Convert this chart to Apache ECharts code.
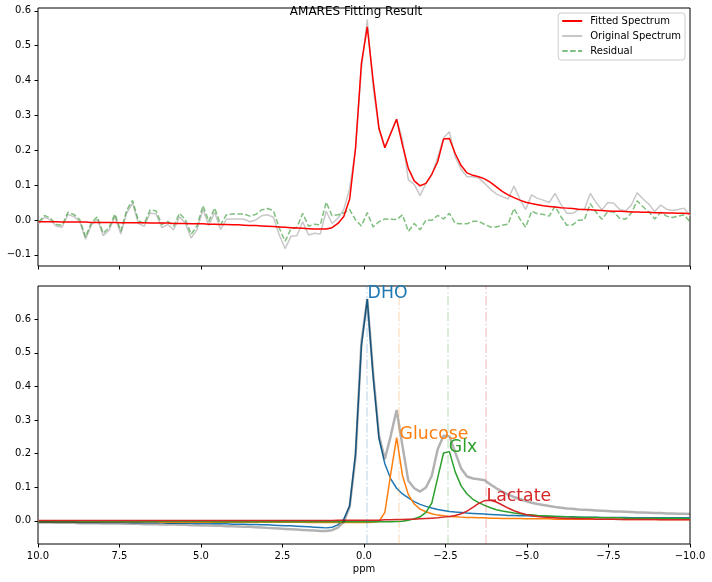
<!DOCTYPE html>
<html>
<head>
<meta charset="utf-8">
<script src="https://cdn.jsdelivr.net/npm/echarts@6/dist/echarts.min.js"></script>
<style>
html,body{margin:0;padding:0;background:#fff;}
#chart{width:712px;height:582px;}
</style>
</head>
<body>
<div id="chart"></div>
<script>
// ---------- DATA ----------
const ppm = [9.98,9.80,9.62,9.44,9.26,9.08,8.90,8.72,8.54,8.36,
 8.18,8.00,7.82,7.64,7.46,7.28,7.10,6.92,6.74,6.56,
 6.38,6.20,6.02,5.84,5.66,5.48,5.30,5.12,4.94,4.76,
 4.58,4.40,4.22,4.04,3.86,3.68,3.50,3.32,3.14,2.96,
 2.78,2.60,2.42,2.24,2.06,1.88,1.70,1.52,1.34,1.16,
 0.98,0.80,0.62,0.44,0.26,0.08,-0.10,-0.28,-0.46,-0.64,
 -0.82,-1.00,-1.18,-1.36,-1.54,-1.72,-1.90,-2.08,-2.26,-2.44,
 -2.62,-2.80,-2.98,-3.16,-3.34,-3.52,-3.70,-3.88,-4.06,-4.24,
 -4.42,-4.60,-4.78,-4.96,-5.14,-5.32,-5.50,-5.68,-5.86,-6.04,
 -6.22,-6.40,-6.58,-6.76,-6.94,-7.12,-7.30,-7.48,-7.66,-7.84,
 -8.02,-8.20,-8.38,-8.56,-8.74,-8.92,-9.10,-9.28,-9.46,-9.64,
 -9.82,-10.00];

const original = [-0.011,0.008,0.000,-0.018,-0.021,0.016,0.010,-0.005,-0.055,-0.014,
 0.002,-0.045,-0.029,0.010,-0.040,0.020,0.048,-0.010,-0.018,0.020,
 0.017,-0.022,-0.013,-0.028,0.009,-0.009,-0.052,-0.027,0.030,-0.016,
 0.022,-0.027,0.002,0.003,0.003,0.002,-0.005,0.000,0.012,0.015,
 0.008,-0.043,-0.082,-0.047,-0.045,-0.005,-0.043,-0.038,-0.040,0.025,
 -0.010,0.005,0.030,0.090,0.205,0.432,0.575,0.380,0.258,0.210,
 0.250,0.290,0.230,0.115,0.102,0.070,0.105,0.130,0.180,0.235,
 0.253,0.180,0.145,0.124,0.124,0.120,0.105,0.088,0.075,0.067,
 0.060,0.097,0.060,0.030,0.072,0.062,0.057,0.050,0.076,0.045,
 0.019,0.019,0.030,0.030,0.076,0.050,0.029,0.050,0.048,0.030,
 0.026,0.043,0.078,0.060,0.045,0.024,0.043,0.031,0.027,0.030,
 0.034,0.012];

const fitted = [-0.005,-0.005,-0.005,-0.005,-0.006,-0.006,-0.006,-0.006,-0.006,-0.007,
 -0.007,-0.007,-0.007,-0.007,-0.008,-0.008,-0.008,-0.008,-0.008,-0.009,
 -0.009,-0.009,-0.009,-0.010,-0.010,-0.010,-0.011,-0.011,-0.011,-0.012,
 -0.012,-0.013,-0.013,-0.014,-0.014,-0.015,-0.016,-0.016,-0.017,-0.018,
 -0.019,-0.020,-0.021,-0.022,-0.023,-0.024,-0.025,-0.026,-0.026,-0.026,
 -0.022,-0.010,0.010,0.060,0.205,0.449,0.554,0.400,0.263,0.207,
 0.248,0.289,0.215,0.148,0.112,0.098,0.105,0.131,0.167,0.232,
 0.234,0.190,0.156,0.135,0.128,0.124,0.118,0.108,0.095,0.082,
 0.072,0.064,0.057,0.051,0.047,0.044,0.041,0.039,0.037,0.035,
 0.034,0.033,0.031,0.030,0.029,0.028,0.027,0.026,0.025,0.025,
 0.024,0.023,0.023,0.022,0.022,0.021,0.021,0.020,0.020,0.019,
 0.019,0.018];

const residual = [-0.006,0.013,0.005,-0.013,-0.015,0.022,0.016,0.001,-0.049,-0.007,
 0.009,-0.038,-0.022,0.017,-0.032,0.028,0.056,-0.002,-0.010,0.029,
 0.026,-0.013,-0.004,-0.018,0.019,0.001,-0.041,-0.016,0.041,-0.004,
 0.034,-0.014,0.015,0.017,0.017,0.017,0.011,0.016,0.029,0.033,
 0.027,-0.023,-0.061,-0.025,-0.022,0.019,-0.018,-0.012,-0.014,0.051,
 0.012,0.015,0.020,0.030,0.000,-0.017,0.021,-0.020,-0.005,0.003,
 0.002,0.001,0.015,-0.033,-0.010,-0.028,0.000,-0.001,0.013,0.003,
 0.019,-0.010,-0.011,-0.011,-0.004,-0.004,-0.013,-0.020,-0.020,-0.015,
 -0.012,0.033,0.003,-0.021,0.025,0.018,0.016,0.011,0.039,0.010,
 -0.015,-0.014,-0.001,0.000,0.047,0.022,0.002,0.024,0.023,0.005,
 0.002,0.020,0.055,0.038,0.023,0.003,0.022,0.011,0.007,0.011,
 0.015,-0.006];

const componentSum = [-0.005,-0.005,-0.005,-0.006,-0.006,-0.006,-0.006,-0.007,-0.007,-0.007,
 -0.007,-0.008,-0.008,-0.008,-0.008,-0.009,-0.009,-0.009,-0.010,-0.010,
 -0.010,-0.011,-0.011,-0.011,-0.012,-0.012,-0.013,-0.013,-0.014,-0.014,
 -0.015,-0.015,-0.016,-0.016,-0.017,-0.018,-0.018,-0.019,-0.020,-0.021,
 -0.022,-0.023,-0.024,-0.025,-0.026,-0.027,-0.028,-0.029,-0.030,-0.030,
 -0.028,-0.020,-0.003,0.042,0.190,0.530,0.660,0.440,0.253,0.184,
 0.253,0.330,0.223,0.119,0.097,0.087,0.099,0.134,0.213,0.253,
 0.252,0.203,0.156,0.132,0.126,0.124,0.121,0.108,0.097,0.087,
 0.078,0.071,0.065,0.059,0.054,0.050,0.047,0.044,0.041,0.039,
 0.037,0.036,0.034,0.033,0.032,0.031,0.030,0.029,0.028,0.028,
 0.027,0.026,0.025,0.025,0.024,0.023,0.023,0.022,0.022,0.021,
 0.021,0.020];

const dho = [-0.004,-0.004,-0.004,-0.004,-0.004,-0.004,-0.004,-0.005,-0.005,-0.005,
 -0.005,-0.005,-0.005,-0.005,-0.005,-0.005,-0.006,-0.006,-0.006,-0.006,
 -0.006,-0.006,-0.007,-0.007,-0.007,-0.007,-0.007,-0.008,-0.008,-0.008,
 -0.009,-0.009,-0.009,-0.010,-0.010,-0.010,-0.011,-0.011,-0.012,-0.012,
 -0.013,-0.014,-0.015,-0.015,-0.016,-0.017,-0.018,-0.019,-0.020,-0.021,
 -0.019,-0.012,0.005,0.045,0.200,0.520,0.660,0.430,0.245,0.170,
 0.125,0.097,0.080,0.068,0.057,0.049,0.043,0.038,0.034,0.031,
 0.028,0.026,0.025,0.023,0.022,0.021,0.020,0.019,0.018,0.017,
 0.016,0.016,0.015,0.015,0.014,0.014,0.013,0.013,0.013,0.012,
 0.012,0.012,0.011,0.011,0.011,0.011,0.010,0.010,0.010,0.010,
 0.010,0.009,0.009,0.009,0.009,0.009,0.009,0.009,0.009,0.009,
 0.009,0.009];

const glucose = [-0.003,-0.003,-0.003,-0.003,-0.003,-0.003,-0.003,-0.003,-0.003,-0.003,
 -0.003,-0.003,-0.003,-0.003,-0.003,-0.003,-0.003,-0.003,-0.003,-0.003,
 -0.003,-0.004,-0.004,-0.004,-0.004,-0.004,-0.004,-0.004,-0.004,-0.004,
 -0.004,-0.004,-0.004,-0.004,-0.004,-0.004,-0.004,-0.004,-0.004,-0.004,
 -0.004,-0.004,-0.004,-0.004,-0.004,-0.004,-0.005,-0.005,-0.005,-0.005,
 -0.005,-0.005,-0.005,-0.005,-0.005,-0.005,-0.005,-0.004,-0.002,0.025,
 0.140,0.248,0.135,0.078,0.050,0.035,0.027,0.021,0.017,0.015,
 0.013,0.012,0.011,0.010,0.010,0.009,0.009,0.008,0.008,0.007,
 0.007,0.007,0.007,0.006,0.006,0.006,0.006,0.006,0.005,0.005,
 0.005,0.005,0.005,0.005,0.005,0.005,0.005,0.005,0.005,0.005,
 0.004,0.004,0.004,0.004,0.004,0.004,0.004,0.004,0.004,0.004,
 0.004,0.004];

const glx = [-0.002,-0.002,-0.002,-0.002,-0.002,-0.002,-0.002,-0.002,-0.002,-0.002,
 -0.002,-0.002,-0.002,-0.002,-0.002,-0.002,-0.002,-0.002,-0.002,-0.002,
 -0.002,-0.002,-0.002,-0.002,-0.002,-0.002,-0.002,-0.002,-0.002,-0.002,
 -0.003,-0.003,-0.003,-0.003,-0.003,-0.003,-0.003,-0.003,-0.003,-0.003,
 -0.003,-0.003,-0.003,-0.003,-0.003,-0.003,-0.003,-0.003,-0.003,-0.003,
 -0.003,-0.003,-0.003,-0.003,-0.003,-0.003,-0.003,-0.003,-0.003,-0.003,
 -0.003,-0.002,-0.001,0.002,0.006,0.012,0.025,0.053,0.128,0.202,
 0.206,0.145,0.104,0.080,0.064,0.054,0.046,0.039,0.033,0.029,
 0.026,0.023,0.021,0.019,0.018,0.016,0.015,0.014,0.013,0.013,
 0.012,0.011,0.011,0.010,0.010,0.010,0.009,0.009,0.009,0.009,
 0.008,0.008,0.008,0.008,0.008,0.008,0.008,0.008,0.008,0.008,
 0.007,0.007];

const lactate = [0.001,0.001,0.001,0.001,0.001,0.001,0.001,0.001,0.001,0.001,
 0.001,0.001,0.001,0.001,0.001,0.001,0.001,0.001,0.001,0.001,
 0.001,0.001,0.001,0.001,0.001,0.001,0.001,0.001,0.001,0.001,
 0.001,0.001,0.001,0.001,0.001,0.001,0.001,0.001,0.001,0.001,
 0.001,0.001,0.001,0.001,0.001,0.001,0.001,0.001,0.001,0.001,
 0.001,0.002,0.002,0.002,0.002,0.002,0.002,0.002,0.002,0.003,
 0.003,0.004,0.004,0.005,0.005,0.006,0.007,0.008,0.009,0.011,
 0.013,0.016,0.021,0.029,0.040,0.052,0.060,0.061,0.056,0.047,
 0.038,0.030,0.024,0.019,0.016,0.013,0.011,0.010,0.009,0.008,
 0.007,0.007,0.006,0.006,0.006,0.005,0.005,0.005,0.005,0.004,
 0.004,0.004,0.004,0.004,0.004,0.004,0.003,0.003,0.003,0.003,
 0.003,0.003];

const peakNames = ['DHO', 'Glucose', 'Glx', 'Lactate'];
const peakPpm = [-0.08, -1.06, -2.57, -3.73];
const peakAmp = [0.663, 0.245, 0.206, 0.058];

const topYTicks = [-0.1, 0.0, 0.1, 0.2, 0.3, 0.4, 0.5, 0.6];
const bottomYTicks = [0.0, 0.1, 0.2, 0.3, 0.4, 0.5, 0.6];

// ---------- CHART ----------
const FONT = 'DejaVu Sans';
const compColors = ['#1f77b4', '#ff7f0e', '#2ca02c', '#d62728'];
const compData = [dho, glucose, glx, lactate];
const pairs = arr => ppm.map((p, i) => [p, arr[i]]);
const fmt = v => (v < -1e-9 ? '\u2212' : '') + Math.abs(v).toFixed(1);

const chart = echarts.init(document.getElementById('chart'), null, {renderer: 'canvas'});

const xAxisBase = {
  type: 'value', min: -10, max: 10, interval: 2.5, inverse: true,
  axisLine: {show: false, onZero: false},
  axisTick: {show: true, length: 3.5, lineStyle: {color: '#000', width: 1}},
  splitLine: {show: false}
};
const yAxisBase = {
  type: 'value', position: 'left',
  axisLine: {show: false, onZero: false},
  splitLine: {show: false},
  axisLabel: {fontFamily: FONT, fontSize: 10, color: '#000', margin: 7, formatter: fmt}
};

const series = [
  {name: 'Original Spectrum', type: 'line', xAxisIndex: 0, yAxisIndex: 0, data: pairs(original),
   symbol: 'none', lineStyle: {color: '#c8c8c8', width: 1.5}, itemStyle: {color: '#c8c8c8'}, z: 2},
  {name: 'Fitted Spectrum', type: 'line', xAxisIndex: 0, yAxisIndex: 0, data: pairs(fitted),
   symbol: 'none', lineStyle: {color: '#ff0000', width: 1.5}, itemStyle: {color: '#ff0000'}, z: 4},
  {name: 'Residual', type: 'line', xAxisIndex: 0, yAxisIndex: 0, data: pairs(residual),
   symbol: 'none', lineStyle: {color: 'rgba(0,128,0,0.5)', width: 1.5, type: [5.5, 2.4]},
   itemStyle: {color: 'rgba(0,128,0,0.5)'}, z: 3}
];

compData.forEach((arr, i) => {
  series.push({
    name: peakNames[i], type: 'line', xAxisIndex: 1, yAxisIndex: 1, data: pairs(arr),
    symbol: 'none', lineStyle: {color: compColors[i], width: 1.5}, itemStyle: {color: compColors[i]}, z: 2,
    markLine: {
      silent: true, symbol: ['none', 'none'], label: {show: false},
      lineStyle: {color: compColors[i], opacity: 0.22, width: 1.5, type: [9.6, 2.4, 1.5, 2.4]},
      data: [{xAxis: peakPpm[i]}]
    }
  });
});

series.push({
  name: 'Sum', type: 'line', xAxisIndex: 1, yAxisIndex: 1, data: pairs(componentSum),
  symbol: 'none', lineStyle: {color: 'rgba(0,0,0,0.3)', width: 2.5}, itemStyle: {color: 'rgba(0,0,0,0.3)'}, z: 3
});

series.push({
  name: 'labels', type: 'scatter', xAxisIndex: 1, yAxisIndex: 1, symbolSize: 0, z: 5, silent: true,
  itemStyle: {opacity: 1},
  data: peakNames.map((n, i) => ({
    name: n, value: [peakPpm[i], peakAmp[i]],
    label: {color: compColors[i]}
  })),
  label: {show: true, formatter: '{b}', position: [0, 0], align: 'left', verticalAlign: 'bottom',
          offset: [1, 4], fontSize: 17.28, fontFamily: FONT, opacity: 1}
});

chart.setOption({
  animation: false,
  backgroundColor: '#fff',
  title: {text: 'AMARES Fitting Result', left: 'center', top: 6, padding: 0,
          textStyle: {fontFamily: FONT, fontSize: 12, fontWeight: 'normal', color: '#000'}},
  legend: {
    data: ['Fitted Spectrum', 'Original Spectrum', 'Residual'],
    orient: 'vertical', right: 27, top: 13, itemWidth: 20, itemHeight: 10, itemGap: 5,
    padding: [3, 4, 4, 3], borderColor: '#cccccc', borderWidth: 1, borderRadius: 3,
    backgroundColor: '#ffffff',
    itemStyle: {opacity: 0},
    textStyle: {fontFamily: FONT, fontSize: 10, color: '#000', padding: [0, 0, 0, 3]}
  },
  grid: [
    {left: 38, top: 8, width: 652, height: 258, show: true, borderColor: '#000', borderWidth: 1, backgroundColor: 'transparent'},
    {left: 38, top: 286, width: 652, height: 258, show: true, borderColor: '#000', borderWidth: 1, backgroundColor: 'transparent'}
  ],
  xAxis: [
    Object.assign({}, xAxisBase, {gridIndex: 0, axisLabel: {show: false}}),
    Object.assign({}, xAxisBase, {gridIndex: 1,
      axisLabel: {fontFamily: FONT, fontSize: 10, color: '#000', margin: 7, formatter: fmt},
      name: 'ppm', nameLocation: 'middle', nameGap: 20,
      nameTextStyle: {fontFamily: FONT, fontSize: 10, color: '#000'}})
  ],
  yAxis: [
    Object.assign({}, yAxisBase, {gridIndex: 0, min: -0.132, max: 0.608,
      axisLabel: Object.assign({}, yAxisBase.axisLabel, {customValues: topYTicks}),
      axisTick: {show: true, length: 3.5, customValues: topYTicks, lineStyle: {color: '#000', width: 1}}}),
    Object.assign({}, yAxisBase, {gridIndex: 1, min: -0.069, max: 0.699,
      axisLabel: Object.assign({}, yAxisBase.axisLabel, {customValues: bottomYTicks}),
      axisTick: {show: true, length: 3.5, customValues: bottomYTicks, lineStyle: {color: '#000', width: 1}}})
  ],
  series: series
});
</script>
</body>
</html>
